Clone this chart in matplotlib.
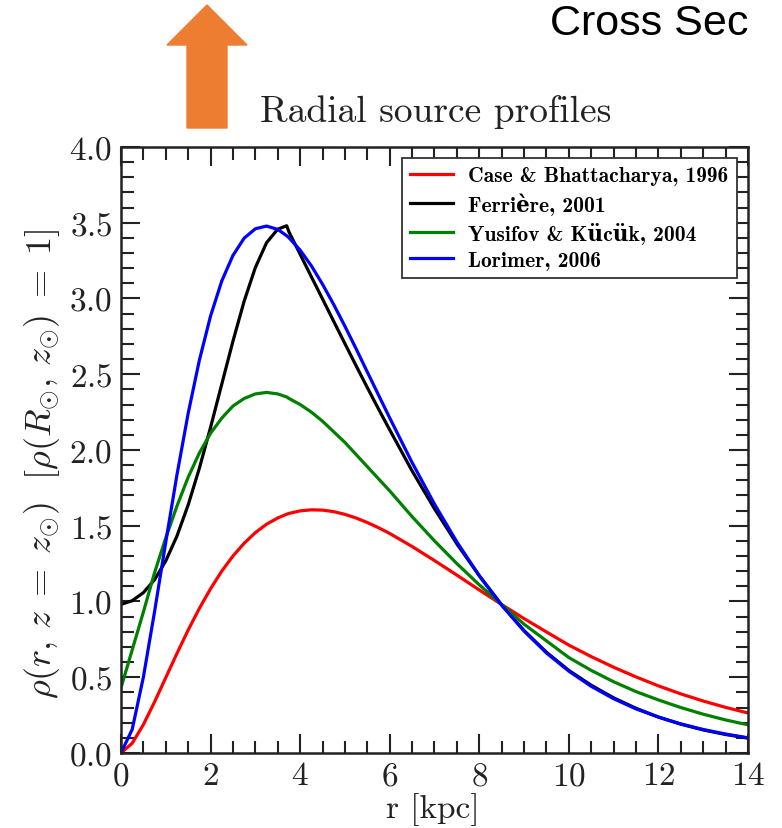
import matplotlib
matplotlib.use("Agg")
import matplotlib.pyplot as plt
from matplotlib.ticker import MultipleLocator
from matplotlib.font_manager import FontProperties

# radius grid [kpc]
r = [0.0, 0.25, 0.5, 0.75, 1.0, 1.25, 1.5, 1.75, 2.0, 2.25, 2.5, 2.75,
     3.0, 3.25, 3.5, 3.7, 3.75, 4.0, 4.25, 4.5, 4.75, 5.0, 5.25, 5.5,
     5.75, 6.0, 6.5, 7.0, 7.5, 8.0, 8.5, 9.0, 9.5, 10.0, 10.5, 11.0,
     11.5, 12.0, 12.5, 13.0, 13.5, 14.0]

case_bhattacharya = [
    0.0, 0.064, 0.187, 0.337, 0.497, 0.657, 0.811, 0.954, 1.084, 1.200,
    1.300, 1.384, 1.454, 1.510, 1.551, 1.576, 1.581, 1.598, 1.605, 1.603,
    1.593, 1.575, 1.551, 1.521, 1.487, 1.449, 1.363, 1.270, 1.174, 1.076,
    0.980, 0.887, 0.799, 0.712, 0.636, 0.566, 0.502, 0.443, 0.390, 0.343,
    0.301, 0.264]

ferriere = [
    0.981, 1.005, 1.058, 1.144, 1.268, 1.432, 1.637, 1.879, 2.149, 2.434,
    2.718, 2.982, 3.204, 3.368, 3.457, 3.480, 3.440, 3.292, 3.144, 2.997,
    2.849, 2.702, 2.556, 2.412, 2.271, 2.133, 1.862, 1.612, 1.380, 1.170,
    0.978, 0.808, 0.665, 0.545, 0.447, 0.364, 0.295, 0.237, 0.190, 0.152,
    0.122, 0.098]

yusifov_kucuk = [
    0.43, 0.68, 0.93, 1.19, 1.42, 1.63, 1.82, 1.98, 2.11, 2.21,
    2.29, 2.34, 2.37, 2.38, 2.37, 2.35, 2.34, 2.30, 2.25, 2.19,
    2.12, 2.05, 1.97, 1.89, 1.81, 1.73, 1.56, 1.40, 1.25, 1.11,
    0.98, 0.85, 0.74, 0.63, 0.545, 0.47, 0.405, 0.35, 0.30, 0.256,
    0.218, 0.186]

lorimer = [
    0.0, 0.155, 0.500, 0.933, 1.392, 1.836, 2.241, 2.592, 2.884, 3.115,
    3.284, 3.398, 3.460, 3.478, 3.456, 3.414, 3.401, 3.319, 3.216, 3.094,
    2.960, 2.817, 2.668, 2.515, 2.363, 2.212, 1.917, 1.643, 1.393, 1.170,
    0.975, 0.805, 0.660, 0.540, 0.440, 0.358, 0.291, 0.237, 0.192, 0.155,
    0.125, 0.100]

labels = [
    "Case & Bhattacharya, 1996",
    "Ferrière, 2001",
    "Yusifov & Kücük, 2004",
    "Lorimer, 2006"
]
colors = ["#ff0000", "#000000", "#008000", "#0000ff"]

plt.rcParams["font.family"] = "cmr10"
plt.rcParams["mathtext.fontset"] = "cm"
plt.rcParams["axes.formatter.use_mathtext"] = True

fig = plt.figure(figsize=(7.82, 8.29), dpi=100)
ax = fig.add_axes([0.1547, 0.0905, 0.8018, 0.7310])

series = [case_bhattacharya, ferriere, yusifov_kucuk, lorimer]
for values, label, color in zip(series, labels, colors):
    ax.plot(r, values, color=color, lw=2.3, label=label)

ax.set_xlim(0, 14)
ax.set_ylim(0, 4)
ax.xaxis.set_major_locator(MultipleLocator(2))
ax.xaxis.set_minor_locator(MultipleLocator(0.5))
ax.yaxis.set_major_locator(MultipleLocator(0.5))
ax.yaxis.set_minor_locator(MultipleLocator(0.1))

ax.tick_params(which="both", direction="in", top=True, right=True,
               labelsize=24, pad=6, colors="#222222")
ax.tick_params(which="major", length=14, width=1.5)
ax.tick_params(which="minor", length=9, width=1.5)
for spine in ax.spines.values():
    spine.set_linewidth(1.8)
    spine.set_color("#222222")

legend = ax.legend(
    loc="upper right",
    prop=FontProperties(family=["cmb10", "DejaVu Serif"], weight="bold",
                        size=15.5),
    handlelength=2.0,
    handletextpad=0.7,
    labelspacing=0.32,
    borderpad=0.4,
    fancybox=False,
    framealpha=1
)
legend.get_frame().set_edgecolor("#333333")
legend.get_frame().set_linewidth(1.3)

fig.text(436 / 782, 1 - 122 / 829, "Radial source profiles",
         ha="center", va="baseline", fontsize=27, color="#222222")
fig.text(433 / 782, 1 - 810 / 829, "r [kpc]",
         ha="center", va="center", fontsize=24, color="#222222")
fig.text(42 / 782, 1 - 464 / 829,
         r"$\rho(r,\, z \;=\; z_{\odot})\ \ [\rho(R_{\odot},\, z_{\odot}) \;=\; 1]$",
         rotation=90, ha="center", va="center", fontsize=26,
         color="#222222")

# slide decorations around the chart
fig.text(550 / 782, 1 - 35 / 829, "Cross Sec",
         family="Liberation Sans", fontsize=31, ha="left", va="baseline")

arrow_px = [(207, 6), (247, 46), (227, 46), (227, 129),
            (187, 129), (187, 46), (167, 46)]
arrow = plt.Polygon([(x / 100, (829 - y) / 100) for x, y in arrow_px],
                    closed=True, color="#ed7d31",
                    transform=fig.dpi_scale_trans)
fig.patches.append(arrow)

fig.savefig("out.png", dpi=100)
plt.close(fig)
